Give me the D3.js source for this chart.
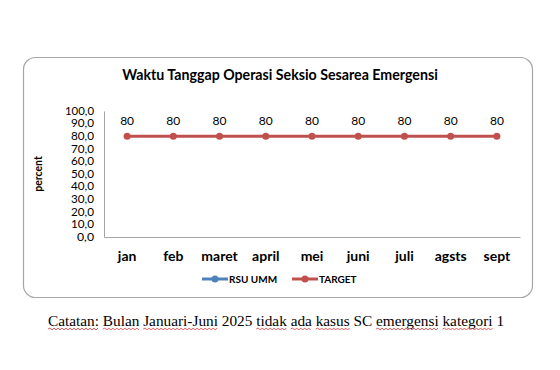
<!DOCTYPE html>
<html><head><meta charset="utf-8">
<script src="https://cdn.jsdelivr.net/npm/d3@7"></script>
<style>body{margin:0;background:#fff}svg{display:block}</style>
</head><body>
<svg id="c" width="560" height="370"></svg>
<script>
const categories = ["jan","feb","maret","april","mei","juni","juli","agsts","sept"];
const rsuUmm = [null,null,null,null,null,null,null,null,null];
const target = [80,80,80,80,80,80,80,80,80];
const yTicks = [0,10,20,30,40,50,60,70,80,90,100];
const title = "Waktu Tanggap Operasi Seksio Sesarea Emergensi";
const note = "Catatan: Bulan Januari-Juni 2025 tidak ada kasus SC emergensi kategori 1";
const noteFlagged = ["Catatan:","Bulan","Januari-Juni","tidak","ada","kasus","emergensi","kategori"];

const svg = d3.select("#c");
const sans = "Lato, 'Open Sans', sans-serif";

svg.append("rect").attr("x",23.5).attr("y",57.5).attr("width",509).attr("height",240)
  .attr("rx",12).attr("fill","#fff").attr("stroke","#a6a6a6").attr("stroke-width",1.2);

svg.append("text").attr("x",280).attr("y",80).attr("text-anchor","middle")
  .attr("font-family",sans).attr("font-weight","bold").attr("font-size",14.2).attr("fill","#000")
  .text(title);

const x = d3.scaleBand().domain(categories).range([104,520]);
const y = d3.scaleLinear().domain([0,100]).range([237,111]);

// axes
const yAxis = svg.append("g").attr("transform","translate(104,0)")
  .call(d3.axisLeft(y).tickValues(yTicks).tickSize(0).tickPadding(10)
    .tickFormat(d => d3.format(".1f")(d).replace(".",",")));
yAxis.select(".domain").attr("stroke","#a6a6a6");
yAxis.selectAll("text").attr("font-family",sans).attr("font-size",10.5).attr("fill","#000")
  .attr("textLength", function(){ return this.textContent.length * 6 - 1; })
  .attr("lengthAdjust","spacingAndGlyphs");

const xAxis = svg.append("g").attr("transform","translate(0,237)")
  .call(d3.axisBottom(x).tickSize(0).tickPadding(14));
xAxis.select(".domain").attr("stroke","#a6a6a6");
xAxis.selectAll("text").attr("font-family",sans).attr("font-size",14).attr("font-weight","bold").attr("fill","#000");

svg.append("text").attr("transform","translate(42,174) rotate(-90)").attr("text-anchor","middle")
  .attr("font-family",sans).attr("font-size",10.5).attr("font-weight","bold").attr("fill","#000").text("percent");

const cx = d => x(d) + x.bandwidth()/2;
const line = d3.line().defined(d => d[1] != null).x(d => cx(d[0])).y(d => y(d[1]));

svg.append("path").datum(categories.map((c,i)=>[c,rsuUmm[i]]))
  .attr("d",line).attr("fill","none").attr("stroke","#4f81bd").attr("stroke-width",3);

svg.append("path").datum(categories.map((c,i)=>[c,target[i]]))
  .attr("d",line).attr("fill","none").attr("stroke","#c0504d").attr("stroke-width",3);
svg.selectAll("circle.t").data(categories.map((c,i)=>[c,target[i]])).join("circle")
  .attr("class","t").attr("cx",d=>cx(d[0])).attr("cy",d=>y(d[1])).attr("r",3.5).attr("fill","#c0504d");
svg.selectAll("text.lbl").data(categories.map((c,i)=>[c,target[i]])).join("text")
  .attr("class","lbl").attr("x",d=>cx(d[0])).attr("y",d=>y(d[1])-11).attr("text-anchor","middle")
  .attr("font-family",sans).attr("font-size",12).attr("fill","#000").text(d=>d[1]);

// legend
const leg = [{name:"RSU UMM",color:"#4f81bd",x:202},{name:"TARGET",color:"#c0504d",x:292}];
const lg = svg.selectAll("g.leg").data(leg).join("g").attr("class","leg")
  .attr("transform",d=>`translate(${d.x},279)`);
lg.append("line").attr("x1",0).attr("x2",26).attr("stroke",d=>d.color).attr("stroke-width",3);
lg.append("circle").attr("cx",13).attr("r",3.5).attr("fill",d=>d.color);
lg.append("text").attr("x",27).attr("y",4).attr("font-family",sans).attr("font-size",10).attr("font-weight","bold")
  .attr("fill","#000").text(d=>d.name);

// note with spellcheck squiggles
const serif = "'Liberation Serif', 'DejaVu Serif', serif";
const noteG = svg.append("g");
const words = note.split(" ");
let px = 48;
const fs = 15.3;
words.forEach(w => {
  const t = noteG.append("text").attr("x",px).attr("y",326).attr("font-family",serif)
    .attr("font-size",fs).attr("fill","#000").text(w);
  const wlen = t.node().getComputedTextLength();
  if (noteFlagged.includes(w)) {
    let d = `M${px},329`; let up = true;
    for (let s = px + 2; s <= px + wlen; s += 2) { d += ` L${s},${up ? 328 : 330}`; up = !up; }
    noteG.append("path").attr("d",d).attr("fill","none").attr("stroke","#e03030").attr("stroke-width",0.8);
  }
  px += wlen + fs*0.25;
});
</script>
</body></html>
